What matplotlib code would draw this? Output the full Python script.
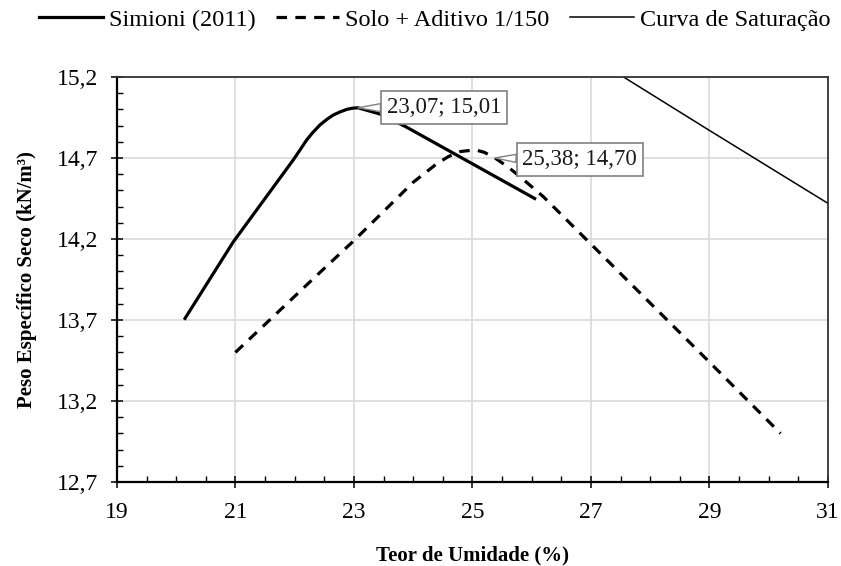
import matplotlib
matplotlib.use("Agg")
import matplotlib.pyplot as plt
from matplotlib.ticker import MultipleLocator, FuncFormatter

plt.rcParams['font.family'] = ['Liberation Serif', 'DejaVu Serif']

# Simioni (2011)
sim_x = [20.15, 20.96, 21.98, 22.10, 22.20, 22.30, 22.43, 22.55, 22.65, 22.77, 22.88, 22.97, 23.07, 23.45, 23.89, 26.05]
sim_y = [13.71, 14.18, 14.69, 14.755, 14.81, 14.855, 14.905, 14.94, 14.965, 14.985, 15.00, 15.007, 15.01, 14.97, 14.89, 14.45]

# Solo + Aditivo 1/150
adt_x = [21.0, 22.3, 23.0, 24.0, 24.4, 24.6, 24.8, 25.05, 25.2, 25.38, 25.6, 25.85, 26.2, 27.6, 29.0, 30.2]
adt_y = [13.50, 13.95, 14.19, 14.55, 14.665, 14.71, 14.74, 14.75, 14.735, 14.70, 14.645, 14.57, 14.46, 13.95, 13.44, 13.00]

# Curva de Saturação
sat_x = [27.55, 29.0, 31.0]
sat_y = [15.20, 14.87, 14.42]

labels = ["Simioni (2011)", "Solo + Aditivo 1/150", "Curva de Saturação"]
peaks = [(23.07, 15.01, "23,07; 15,01"), (25.38, 14.70, "25,38; 14,70")]
label_pos = [(24.52, 15.012), (26.81, 14.69)]

fig = plt.figure(figsize=(8.41, 5.66), dpi=100)
ax = fig.add_axes([0.139, 0.1484, 0.8455, 0.7156])

ax.plot(sim_x, sim_y, color='black', lw=2.3, label=labels[0])
ax.plot(adt_x, adt_y, color='black', lw=2.3, dashes=(3.3, 2.6), label=labels[1])
ax.plot(sat_x, sat_y, color='black', lw=1.1, label=labels[2])

for (px, py, txt), (tx, ty) in zip(peaks, label_pos):
    ax.annotate(txt, xy=(px, py), xytext=(tx, ty), ha='center', va='center',
                fontsize=16.5, color='#1a1a1a',
                bbox=dict(boxstyle='square,pad=0.25', fc='white', ec='#808080', lw=1.2),
                arrowprops=dict(arrowstyle='wedge,tail_width=0.35,shrink_factor=0.5',
                                fc='white', ec='#808080', lw=1.0, shrinkA=0, shrinkB=0))

ax.set_xlim(19, 31)
ax.set_ylim(12.7, 15.2)
ax.set_xticks(range(19, 32, 2))
ax.xaxis.set_minor_locator(MultipleLocator(0.5))
ax.set_yticks([12.7, 13.2, 13.7, 14.2, 14.7, 15.2])
ax.yaxis.set_minor_locator(MultipleLocator(0.1))
ax.yaxis.set_major_formatter(FuncFormatter(lambda v, p: f"{v:.1f}".replace('.', ',')))

ax.grid(True, which='major', color='#d9d9d9', lw=1.2)
ax.set_axisbelow(True)
ax.tick_params(which='major', direction='inout', length=9, width=1.1, labelsize=17)
ax.tick_params(axis='x', which='major', pad=10)
ax.tick_params(axis='y', which='major', pad=9)
ax.tick_params(which='minor', direction='in', length=4, width=1.0)
for side in ['left', 'bottom']:
    ax.spines[side].set_linewidth(1.6)
for side in ['top', 'right']:
    ax.spines[side].set_linewidth(1.3)
    ax.spines[side].set_color('#333333')

ax.set_xlabel("Teor de Umidade (%)", fontsize=15, fontweight='bold', labelpad=16)
ax.set_ylabel("Peso Específico Seco (kN/m³)", fontsize=15, fontweight='bold', labelpad=14)

fig.legend(loc='center', bbox_to_anchor=(0.517, 0.965), ncol=3, frameon=False,
           fontsize=17.5, handlelength=2.6, handletextpad=0.25, columnspacing=0.85)

fig.savefig("out.png", dpi=100)
